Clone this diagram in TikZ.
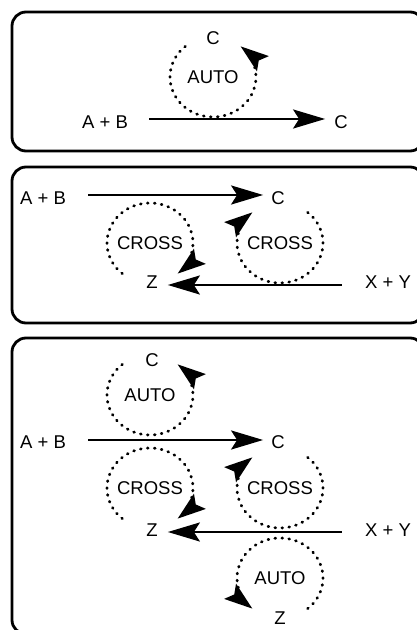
\documentclass[tikz,border=0pt]{standalone}
\usepackage{fontspec}
\setmainfont{Liberation Sans}
\usetikzlibrary{arrows.meta}

\begin{document}
\begin{tikzpicture}[x=1pt,y=1pt,
    txt/.style={inner sep=0pt, font=\fontsize{18.5}{20}\selectfont},
    panel/.style={draw, line width=2.8pt, rounded corners=14pt},
    react/.style={line width=2.6pt, -{Stealth[length=32pt, width=19pt, inset=6pt]}},
    loopy/.style={line width=2.8pt, line cap=round, dash pattern=on 0.8pt off 6.2pt,
        -{Stealth[length=28pt, width=19pt, inset=5pt]}},
    arcs/.style={x radius=43pt, y radius=40pt}]

\useasboundingbox (0,0) rectangle (417,630);
\clip (0,0) rectangle (417,630);

% panel 1 : auto
\draw[panel] (12,479) rectangle (424,618);
\node[txt] (ab1) at (105,508) {A + B};
\node[txt] (c1) at (341,508) {C};
\node[txt] (auto1) at (213,553) {AUTO};
\node[txt] (ctop1) at (213,592) {C};
\draw[react, shorten <=21pt, shorten >=9pt] ([yshift=3pt]ab1.east) -- ([yshift=3pt]c1.west);
\draw[loopy] (auto1.center) ++(130:43pt and 40pt)
    arc[arcs, start angle=130, end angle=410];

% panel 2 : cross
\draw[panel] (12,307) rectangle (424,463);
\node[txt] (ab2) at (43,432) {A + B};
\node[txt] (c2) at (278,432) {C};
\node[txt] (z2) at (152,348) {Z};
\node[txt] (xy2) at (388,348) {X + Y};
\node[txt] (crossl2) at (150,387) {CROSS};
\node[txt] (crossr2) at (280,387) {CROSS};
\draw[react, shorten <=22pt, shorten >=8pt] ([yshift=3pt]ab2.east) -- ([yshift=3pt]c2.west);
\draw[react, shorten <=23pt, shorten >=10pt] ([yshift=-3pt]xy2.west) -- ([yshift=-3pt]z2.east);
\draw[loopy] (crossl2.center) ++(230:43pt and 40pt)
    arc[arcs, start angle=230, end angle=-50];
\draw[loopy] (crossr2.center) ++(50:43pt and 40pt)
    arc[arcs, start angle=50, end angle=-230];

% panel 3 : auto + cross
\draw[panel] (12,-4) rectangle (424,292);
\node[txt] (ctop3) at (152,270) {C};
\node[txt] (auto3) at (150,235) {AUTO};
\node[txt] (ab3) at (43,188) {A + B};
\node[txt] (c3) at (278,188) {C};
\node[txt] (crossl3) at (150,142) {CROSS};
\node[txt] (crossr3) at (280,142) {CROSS};
\node[txt] (z3) at (152,100) {Z};
\node[txt] (xy3) at (388,100) {X + Y};
\node[txt] (autob3) at (280,52) {AUTO};
\node[txt] (zbot3) at (280,12) {Z};
\draw[react, shorten <=22pt, shorten >=8pt] ([yshift=2pt]ab3.east) -- ([yshift=2pt]c3.west);
\draw[react, shorten <=23pt, shorten >=10pt] ([yshift=-2pt]xy3.west) -- ([yshift=-2pt]z3.east);
\draw[loopy] (auto3.center) ++(130:43pt and 40pt)
    arc[arcs, start angle=130, end angle=410];
\draw[loopy] (crossl3.center) ++(230:43pt and 40pt)
    arc[arcs, start angle=230, end angle=-50];
\draw[loopy] (crossr3.center) ++(50:43pt and 40pt)
    arc[arcs, start angle=50, end angle=-230];
\draw[loopy] (autob3.center) ++(-50:43pt and 40pt)
    arc[arcs, start angle=-50, end angle=230];
\end{tikzpicture}
\end{document}
